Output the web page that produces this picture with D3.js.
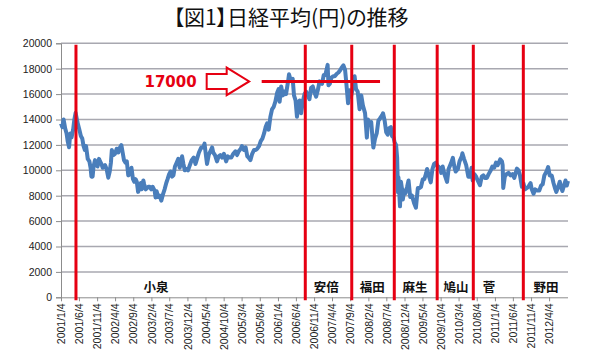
<!DOCTYPE html>
<html><head><meta charset="utf-8">
<script src="https://cdn.jsdelivr.net/npm/d3@7"></script>
<style>body{margin:0;background:#fff}</style>
</head><body>
<svg id="c" width="600" height="361"></svg>
<script>
const title = "【図1】日経平均(円)の推移";
const yTicks = [0,2000,4000,6000,8000,10000,12000,14000,16000,18000,20000];
const xTickDates = ["2001-01-04","2001-06-04","2001-11-04","2002-04-04","2002-09-04","2003-02-04","2003-07-04","2003-12-04","2004-05-04","2004-10-04","2005-03-04","2005-08-04","2006-01-04","2006-06-04","2006-11-04","2007-04-04","2007-09-04","2008-02-04","2008-07-04","2008-12-04","2009-05-04","2009-10-04","2010-03-04","2010-08-04","2011-01-04","2011-06-04","2011-11-04","2012-04-04"];
const xDomain = ["2001-01-04","2012-09-10"];
const pmNames = ["小泉","安倍","福田","麻生","鳩山","菅","野田"];
const pmStart = ["2001-05-10","2006-08-22","2007-09-17","2008-09-09","2009-09-05","2010-07-06","2011-08-31"];
const pmLabelAt = ["2003-03-15","2007-02-14","2008-03-07","2009-03-02","2010-02-10","2010-11-15","2012-03-08"];
const target = {value:17000, from:"2005-08-20", to:"2008-05-12", label:"17000"};
const nikkei = [
["2001-01-04",13691],["2001-01-15",13400],["2001-01-26",14000],["2001-02-08",13300],["2001-02-20",12900],["2001-03-01",12300],["2001-03-13",11819],["2001-03-23",12900],["2001-04-03",12600],["2001-04-16",13200],["2001-04-26",13973],["2001-05-07",14529],["2001-05-22",13800],["2001-06-05",13300],["2001-06-20",12700],["2001-07-02",12500],["2001-07-13",11900],["2001-07-24",11600],["2001-08-03",11900],["2001-08-17",10900],["2001-08-31",10700],["2001-09-10",10200],["2001-09-17",9500],["2001-09-27",9500],["2001-10-05",10300],["2001-10-17",10800],["2001-10-29",10400],["2001-11-08",10300],["2001-11-20",10900],["2001-11-29",10700],["2001-12-10",10500],["2001-12-21",10200],
["2002-01-10",10400],["2002-01-23",10100],["2002-02-06",9420],["2002-02-18",9900],["2002-02-28",10600],["2002-03-08",11600],["2002-03-20",11200],["2002-04-03",11300],["2002-04-18",11700],["2002-05-01",11400],["2002-05-15",11800],["2002-05-27",11979],["2002-06-07",11400],["2002-06-18",10800],["2002-07-01",10600],["2002-07-12",10700],["2002-07-24",9600],["2002-08-06",9700],["2002-08-20",10200],["2002-09-02",9300],["2002-09-13",9100],["2002-09-24",9300],["2002-10-04",9100],["2002-10-15",8300],["2002-10-25",8600],["2002-11-06",9000],["2002-11-14",8500],["2002-11-28",9200],["2002-12-05",8900],["2002-12-18",8500],
["2003-01-08",8700],["2003-01-20",8700],["2003-02-03",8500],["2003-02-14",8700],["2003-03-03",8400],["2003-03-11",7862],["2003-03-20",8350],["2003-04-01",7900],["2003-04-14",8000],["2003-04-28",7607],["2003-05-12",8100],["2003-05-26",8500],["2003-06-09",9000],["2003-06-20",9300],["2003-07-03",9700],["2003-07-15",9900],["2003-07-28",9500],["2003-08-08",9600],["2003-08-21",10300],["2003-09-04",10600],["2003-09-18",10900],["2003-09-30",10200],["2003-10-10",10600],["2003-10-20",11100],["2003-10-31",10500],["2003-11-12",10000],["2003-11-28",10100],["2003-12-09",10000],["2003-12-24",10400],
["2004-01-09",10800],["2004-01-26",11000],["2004-02-10",10500],["2004-02-26",11000],["2004-03-10",11400],["2004-03-29",11800],["2004-04-14",11800],["2004-04-26",12100],["2004-05-10",11000],["2004-05-17",10500],["2004-05-31",11200],["2004-06-14",11500],["2004-06-29",11800],["2004-07-08",11400],["2004-07-23",11200],["2004-08-09",10700],["2004-08-23",11100],["2004-09-06",11200],["2004-09-21",11000],["2004-10-06",11300],["2004-10-25",10700],["2004-11-08",11100],["2004-11-24",11000],["2004-12-07",11000],["2004-12-24",11300],
["2005-01-11",11500],["2005-01-25",11200],["2005-02-08",11500],["2005-02-25",11700],["2005-03-07",11900],["2005-03-24",11600],["2005-04-07",11800],["2005-04-21",11100],["2005-05-02",11000],["2005-05-17",10800],["2005-06-01",11300],["2005-06-17",11600],["2005-07-01",11600],["2005-07-14",11700],["2005-07-29",11900],["2005-08-12",12300],["2005-08-26",12500],["2005-09-09",12900],["2005-09-22",13400],["2005-10-05",13700],["2005-10-18",13200],["2005-11-01",14200],["2005-11-15",14800],["2005-11-29",15000],["2005-12-13",15400],["2005-12-28",16100],
["2006-01-10",16400],["2006-01-18",15400],["2006-01-31",16600],["2006-02-14",15900],["2006-02-28",16200],["2006-03-13",16000],["2006-03-31",17059],["2006-04-07",17563],["2006-04-21",17100],["2006-05-08",17200],["2006-05-19",15900],["2006-06-01",15500],["2006-06-13",14219],["2006-06-23",15100],["2006-07-05",15500],["2006-07-18",14500],["2006-08-01",15400],["2006-08-15",16000],["2006-08-29",16200],["2006-09-12",15900],["2006-09-26",15600],["2006-10-10",16500],["2006-10-24",16600],["2006-11-08",16100],["2006-11-21",15800],["2006-12-05",16300],["2006-12-20",17000],
["2007-01-10",16800],["2007-01-24",17500],["2007-02-07",17500],["2007-02-26",18300],["2007-03-05",16700],["2007-03-16",16800],["2007-03-30",17300],["2007-04-13",17400],["2007-04-27",17400],["2007-05-14",17600],["2007-05-28",17700],["2007-06-13",17900],["2007-06-25",18100],["2007-07-09",18262],["2007-07-23",17900],["2007-08-01",17000],["2007-08-17",15273],["2007-08-28",16300],["2007-09-11",15800],["2007-09-26",16500],["2007-10-11",17400],["2007-10-23",16400],["2007-11-06",16200],["2007-11-22",14800],["2007-12-06",15900],["2007-12-20",15100],
["2008-01-07",14500],["2008-01-22",12573],["2008-02-01",14000],["2008-02-14",13600],["2008-02-28",13800],["2008-03-10",12500],["2008-03-17",11787],["2008-03-31",12500],["2008-04-14",12900],["2008-04-28",13900],["2008-05-13",14100],["2008-05-30",14338],["2008-06-06",14489],["2008-06-20",13900],["2008-07-03",13000],["2008-07-16",12800],["2008-07-25",13300],["2008-08-11",13400],["2008-08-21",12700],["2008-09-02",12600],["2008-09-12",12200],["2008-09-24",12000],["2008-10-03",11000],["2008-10-10",8276],["2008-10-14",9447],["2008-10-27",7163],["2008-11-04",9100],["2008-11-12",8600],["2008-11-20",7700],["2008-12-01",8400],["2008-12-12",8200],["2008-12-26",8700],
["2009-01-07",9200],["2009-01-21",7900],["2009-02-05",8000],["2009-02-23",7400],["2009-03-10",7055],["2009-03-26",8600],["2009-04-08",8600],["2009-04-22",8700],["2009-05-07",9300],["2009-05-20",9300],["2009-06-05",9800],["2009-06-12",10100],["2009-06-29",9500],["2009-07-13",9050],["2009-07-27",10100],["2009-08-10",10500],["2009-08-26",10600],["2009-09-08",10300],["2009-09-16",10300],["2009-09-30",10100],["2009-10-09",9800],["2009-10-21",10300],["2009-11-05",9700],["2009-11-27",9081],["2009-12-10",10100],["2009-12-30",10546],
["2010-01-15",10980],["2010-01-29",10200],["2010-02-08",9900],["2010-02-26",10100],["2010-03-12",10700],["2010-03-31",11100],["2010-04-05",11339],["2010-04-19",10900],["2010-05-07",10400],["2010-05-25",9500],["2010-06-08",9500],["2010-06-21",10200],["2010-07-01",9200],["2010-07-15",9700],["2010-07-30",9500],["2010-08-12",9200],["2010-08-31",8824],["2010-09-15",9500],["2010-09-29",9600],["2010-10-12",9400],["2010-10-28",9400],["2010-11-12",9700],["2010-11-30",10000],["2010-12-13",10300],["2010-12-29",10200],
["2011-01-13",10600],["2011-01-27",10400],["2011-02-17",10857],["2011-03-04",10700],["2011-03-10",10400],["2011-03-15",8605],["2011-03-28",9500],["2011-04-11",9700],["2011-04-28",9800],["2011-05-16",9600],["2011-06-01",9700],["2011-06-16",9400],["2011-07-01",9900],["2011-07-08",10137],["2011-07-22",10000],["2011-08-03",9600],["2011-08-19",8700],["2011-09-02",8950],["2011-09-13",8500],["2011-09-28",8600],["2011-10-12",8700],["2011-10-31",8990],["2011-11-10",8500],["2011-11-25",8160],["2011-12-09",8500],["2011-12-27",8400],
["2012-01-12",8400],["2012-01-27",8800],["2012-02-10",8900],["2012-02-24",9600],["2012-03-13",9900],["2012-03-27",10255],["2012-04-09",9600],["2012-04-26",9600],["2012-05-11",9000],["2012-05-23",8600],["2012-06-04",8295],["2012-06-19",8700],["2012-07-03",9100],["2012-07-12",8700],["2012-07-25",8366],["2012-08-07",8800],["2012-08-20",9200],["2012-08-31",8800],["2012-09-10",9150]
];

const parse = d3.timeParse("%Y-%m-%d");
const svg = d3.select("#c");
const x = d3.scaleTime().domain(xDomain.map(parse)).range([61, 568]);
const y = d3.scaleLinear().domain([0, 20000]).range([297.3, 43.3]);
const red = "#e60012";

svg.append("text").attr("x", 291).attr("y", 25)
  .attr("text-anchor", "middle")
  .style("font-family", "'Noto Sans CJK JP'").style("font-size", "21px").style("fill", "#111")
  .style("font-feature-settings", "'palt'")
  .text(title);

// gridlines
svg.append("g").selectAll("line").data(yTicks.slice(1)).join("line")
  .attr("x1", 61).attr("x2", 568).attr("y1", d => y(d)).attr("y2", d => y(d))
  .attr("stroke", "#a8a8b0").attr("stroke-width", 1.5);

// y axis
const ya = svg.append("g").attr("transform", "translate(61,0)")
  .call(d3.axisLeft(y).tickValues(yTicks).tickSize(5).tickPadding(4).tickFormat(d3.format("d")));
ya.selectAll("path,line").attr("stroke", "#8c8c8c");
ya.selectAll("text").style("font-family", "'Liberation Sans'").style("font-size", "10.5px").style("fill", "#222");

// x axis
const xa = svg.append("g").attr("transform", `translate(0,${y(0)})`)
  .call(d3.axisBottom(x).tickValues(xTickDates.map(parse)).tickSize(4).tickFormat(d3.timeFormat("%Y/%-m/%-d")));
xa.select("path").attr("stroke", "#8c8c8c").attr("d", `M61,0.5H568`);
xa.selectAll("line").attr("stroke", "#8c8c8c");
xa.selectAll("text").attr("transform", "rotate(-90)").attr("text-anchor", "end")
  .attr("x", -6).attr("y", 0).attr("dy", "0.35em")
  .style("font-family", "'Liberation Sans'").style("font-size", "10.5px").style("fill", "#222");

// series line
const line = d3.line().x(d => x(parse(d[0]))).y(d => y(d[1]));
svg.append("path").datum(nikkei).attr("d", line)
  .attr("fill", "none").attr("stroke", "#4a7ebb").attr("stroke-width", 4)
  .attr("stroke-linejoin", "round");

// PM lines
svg.append("g").selectAll("line").data(pmStart).join("line")
  .attr("x1", d => x(parse(d))).attr("x2", d => x(parse(d)))
  .attr("y1", y(20000) + 1.5).attr("y2", y(0) + 3)
  .attr("stroke", red).attr("stroke-width", 3);

// PM labels
svg.append("g").selectAll("text").data(pmNames).join("text")
  .attr("x", (d, i) => x(parse(pmLabelAt[i]))).attr("y", 292)
  .attr("text-anchor", "middle")
  .style("font-family", "'Noto Sans CJK JP'").style("font-weight", "bold").style("font-size", "12.5px").style("fill", "#111")
  .text(d => d);

// 17000 target line
const xs = x(parse(target.from)), xe = x(parse(target.to)), y0 = y(target.value);
svg.append("line").attr("x1", xs).attr("x2", xe).attr("y1", y0).attr("y2", y0)
  .attr("stroke", red).attr("stroke-width", 3);
// arrow
const tip = xs - 12.5, hb = xs - 35, sl = xs - 55;
svg.append("path")
  .attr("d", `M${sl},${y0-7.5}H${hb}V${y0-13.8}L${tip},${y0}L${hb},${y0+13.8}V${y0+7.5}H${sl}Z`)
  .attr("fill", "#fff").attr("stroke", red).attr("stroke-width", 2);
svg.append("text").attr("x", xs - 65).attr("y", y0 + 6)
  .attr("text-anchor", "end")
  .style("font-family", "'DejaVu Sans'").style("font-weight", "bold").style("font-size", "15px").style("fill", red)
  .text(target.label);
</script>
</body></html>
